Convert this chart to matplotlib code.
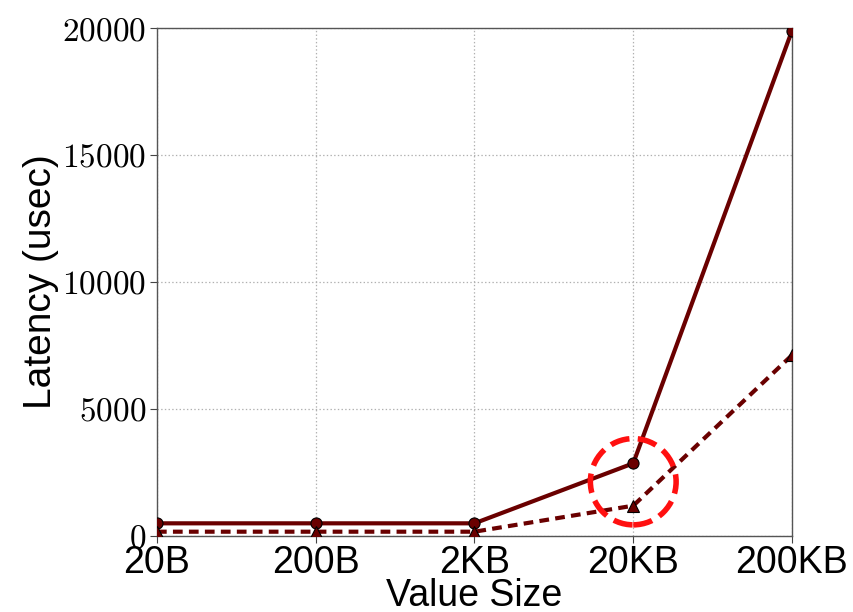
import matplotlib
matplotlib.use('Agg')
import matplotlib.pyplot as plt
from matplotlib.patches import Ellipse

# data
sizes = ['20B', '200B', '2KB', '20KB', '200KB']
lat_solid = [480, 480, 480, 2845, 19900]
lat_dashed = [150, 150, 150, 1175, 7110]
yticks = [0, 5000, 10000, 15000, 20000]

plt.rcParams['mathtext.fontset'] = 'cm'
plt.rcParams['font.family'] = ['Liberation Sans', 'DejaVu Sans']
plt.rcParams['lines.scale_dashes'] = False

fig = plt.figure(figsize=(8.54, 6.12), dpi=100)
ax = fig.add_axes([0.1838, 0.125, 0.7436, 0.829])

x = list(range(len(sizes)))
col = '#6a0000'
ax.plot(x, lat_solid, '-', color=col, lw=3.0, marker='o', ms=8,
        mfc=col, mec='black', mew=0.8, zorder=3)
ax.plot(x, lat_dashed, color=col, lw=3.0, dashes=(7, 4.5), marker='^', ms=8,
        mfc=col, mec='black', mew=0.8, zorder=3)

# highlight around the 20KB point
ell = Ellipse((3, 2120), 0.54, 3400, fill=False, edgecolor='#ff1010',
              lw=4.0, linestyle=(0, (14, 6)), zorder=4)
ax.add_patch(ell)

ax.set_xlim(0, 4)
ax.set_ylim(0, 20000)
ax.set_xticks(x)
ax.set_xticklabels(sizes, fontsize=27)
ax.set_yticks(yticks)
ax.set_yticklabels(['$%d$' % v for v in yticks], fontsize=24)
ax.tick_params(direction='out', length=5, top=False, right=False, color='#444444')
ax.tick_params(axis='x', pad=2)
ax.tick_params(axis='y', pad=3)
ax.grid(True, linestyle=':', color='#b0b0b0', lw=0.9)
for s in ax.spines.values():
    s.set_color('#555555')
    s.set_linewidth(1.0)

ax.set_xlabel('Value Size', fontsize=27, labelpad=-2)
ax.set_ylabel('Latency (usec)', fontsize=28, labelpad=2)

fig.savefig('out.png', dpi=100)
